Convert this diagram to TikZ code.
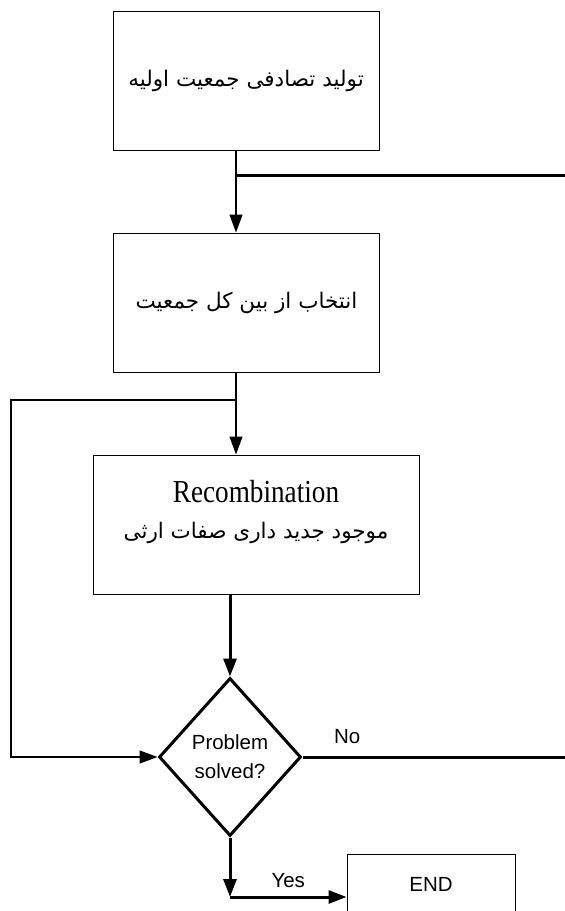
\documentclass[tikz,border=0pt]{standalone}
\usepackage{fontspec}
\setmainfont{Liberation Sans}
\newfontfamily\arabicfont[Script=Arabic]{DejaVu Sans}
\newfontfamily\timesfont{Liberation Serif}
\TeXXeTstate=1
\usetikzlibrary{arrows.meta}
\usetikzlibrary{shapes.geometric, calc}

\begin{document}
\begin{tikzpicture}[x=1pt, y=-1pt,
    proc/.style={draw, line width=1pt, inner sep=0pt, minimum width=266pt, minimum height=139pt},
    fa/.style={font=\arabicfont\fontsize{21.5}{24}\selectfont},
    tip/.style={-{Triangle[length=18pt, width=13pt]}},
    thinline/.style={line width=1.3pt},
    thickline/.style={line width=3pt}]
    \useasboundingbox (0,0) rectangle (565,911);
    \clip (0,0) rectangle (565,911);

    % Boites
    \node[proc, fa] (init) at (246,80.5) {\beginR تولید تصادفی جمعیت اولیه\endR};
    \node[proc, fa] (select) at (246.5,302.5) {\beginR انتخاب از بین کل جمعیت\endR};
    \node[proc, minimum width=326pt] (recomb) at (256,524.5) {};
    \node[font=\timesfont\fontsize{32}{34}\selectfont, xscale=0.85, transform shape] (recombtxt) at (256,492) {Recombination};
    \node[fa] (recombfa) at (256,533) {\beginR موجود جدید داری صفات ارثی\endR};

    % Test
    \node[draw, diamond, line width=3pt, inner sep=0pt, minimum width=142pt, minimum height=158pt,
          align=center, font=\fontsize{20.5}{29}\selectfont] (test) at (230,757) {Problem\\solved?};
    \node[draw, line width=1pt, minimum width=168pt, minimum height=60pt,
          font=\fontsize{20.5}{24}\selectfont] (end) at (431,884) {END};

    % Points de jonction
    \coordinate (j1) at (236,175);
    \coordinate (j1e) at (565,175);
    \coordinate (j2) at (236,400);
    \coordinate (loop) at (11,400);
    \coordinate (noe) at (565,757);
    \coordinate (yes) at (230,897);

    % Fleches
    \draw[thinline, tip] (init.south -| j1) -- (select.north -| j1);
    \draw[thickline] (j1) -- (j1e);
    \draw[thinline, tip] (select.south -| j2) -- (recomb.north -| j2);
    \draw[thinline, tip] (j2) -- (loop) |- (test.west);
    \draw[thickline, tip] (recomb.south -| test.north) -- (test.north);
    \draw[thickline] (test.east) -- (noe) node[pos=0.17, above=8pt, font=\fontsize{20.5}{22}\selectfont] {No};
    \draw[thickline, tip] (test.south) -- (yes);
    \draw[thickline, tip] (yes) -- (yes -| end.west) node[midway, above=4pt, font=\fontsize{20.5}{22}\selectfont] {Yes};
\end{tikzpicture}
\end{document}
